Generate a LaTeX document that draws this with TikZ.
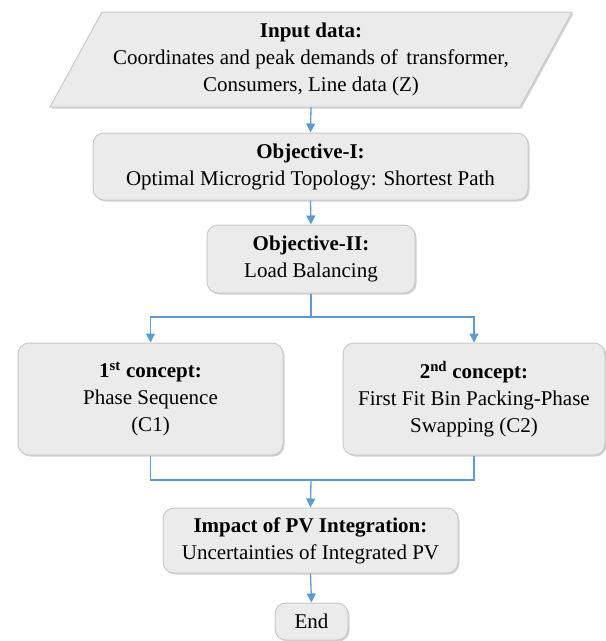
\documentclass[tikz,border=0pt]{standalone}
\usepackage{fontspec}
\setmainfont{Liberation Serif}
\usetikzlibrary{arrows.meta,shadows}
\definecolor{boxfill}{HTML}{EBEBEB}
\definecolor{boxline}{HTML}{C9C9C9}
\definecolor{arrblue}{HTML}{5B9BD5}
\begin{document}
\begin{tikzpicture}[x=1pt,y=-1pt,
  txt/.style={font=\fontsize{21}{27}\selectfont, align=center, inner sep=0pt},
  rbox/.style={txt, draw=boxline, fill=boxfill, line width=1pt, rounded corners=11pt,
     drop shadow={shadow xshift=1.5pt, shadow yshift=-1.5pt, fill=black!35, opacity=0.5}},
  conn/.style={draw=arrblue, line width=1.3pt},
  arr/.style={conn, -{Triangle[width=9pt,length=9pt]}}]
\useasboundingbox (0,0) rectangle (606,641);
% input parallelogram
\fill[black!35, opacity=0.5] (103.5,13.5) -- (573.5,13.5) -- (521.5,108.5) -- (51.5,108.5) -- cycle;
\filldraw[fill=boxfill, draw=boxline, line width=1pt] (102,12) -- (572,12) -- (520,107) -- (50,107) -- cycle;
\node[txt, minimum width=420pt, minimum height=95pt] (inp) at (311,59.5)
  {\textbf{Input data:}\\Coordinates and peak demands of\, transformer,\\Consumers, Line data (Z)};
\node[rbox, minimum width=435pt, minimum height=67pt] (o1) at (310.5,166.5)
  {\textbf{Objective-I:}\\Optimal Microgrid Topology: Shortest Path};
\node[rbox, minimum width=208pt, minimum height=68pt] (o2) at (311,259)
  {\textbf{Objective-II:}\\Load Balancing};
\node[rbox, minimum width=265pt, minimum height=112pt] (c1) at (150.5,399)
  {\textbf{1\textsuperscript{st} concept:}\\Phase Sequence\\(C1)};
\node[rbox, minimum width=262pt, minimum height=112pt] (c2) at (474,399)
  {\textbf{2\textsuperscript{nd} concept:}\\First Fit Bin Packing-Phase\\Swapping (C2)};
\node[rbox, minimum width=295pt, minimum height=65pt] (imp) at (310.5,540.5)
  {\textbf{Impact of PV Integration:}\\Uncertainties of Integrated PV};
\node[rbox, minimum width=73pt, minimum height=37pt] (end) at (311.5,621.5) {End};
\coordinate (split) at (311,317);
\coordinate (join) at (311,480);
\draw[arr] (inp.south) -- (o1.north);
\draw[arr] (o1.south) -- (o2.north);
\draw[conn] (o2.south) -- (split);
\draw[arr] (split) -| (c1.north);
\draw[arr] (split) -| (c2.north);
\draw[conn] (c1.south) |- (join);
\draw[conn] (c2.south) |- (join);
\draw[arr] (join) -- (imp.north);
\draw[arr] (imp.south) -- (end.north);
\end{tikzpicture}
\end{document}
